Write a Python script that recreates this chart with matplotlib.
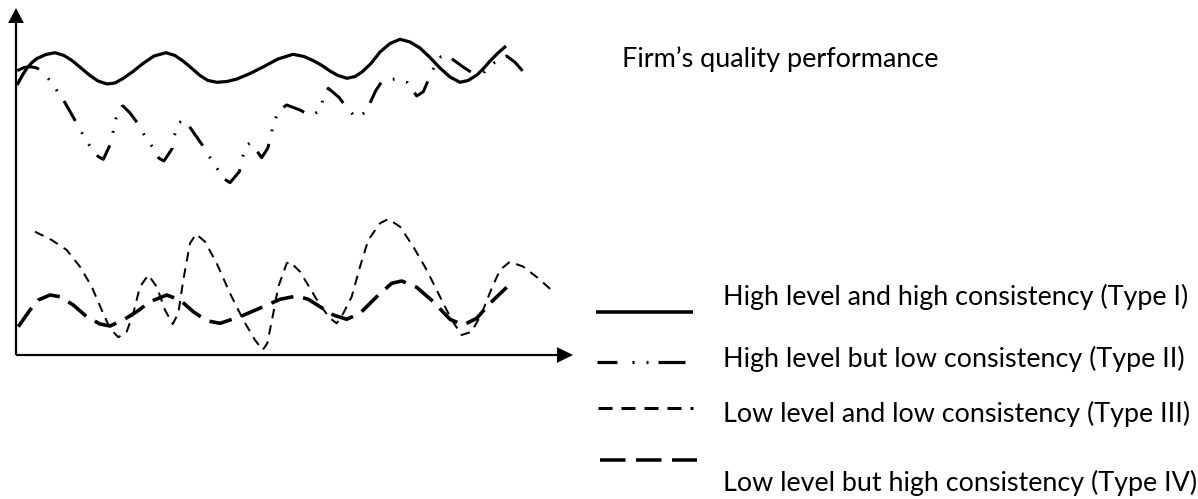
import matplotlib
matplotlib.use("Agg")
import matplotlib.pyplot as plt

plt.rcParams["lines.scale_dashes"] = False
plt.rcParams["font.family"] = ["Lato", "DejaVu Sans"]

# ---------------- data (time t, quality q) ----------------
t_type1 = [1, 6, 11, 16, 21, 30, 39, 48, 56, 65, 74, 82, 91, 99, 107, 117, 127, 138, 150,
           159, 167, 176, 184, 192, 201, 211, 221, 234, 247, 262, 277, 288, 297, 306, 314,
           322, 331, 339, 346, 355, 364, 374, 384, 394, 404, 414, 424, 434, 444, 452, 461,
           468, 474, 482, 490]
q_type1 = [270, 279, 287, 292.5, 296.5, 300.5, 302.3, 299.5, 294.5, 287, 279.5, 274, 271,
           272, 276.5, 283.5, 291.5, 299, 302.3, 299.5, 294, 286.5, 279.5, 274.5, 272.7,
           273.5, 276, 281.5, 288, 296, 300.7, 298.5, 294.5, 289.5, 284, 279.5, 276.7,
           278.5, 283, 291.5, 303, 311.5, 315.7, 313, 307, 297.5, 287, 278, 272.7, 274.5,
           280, 287, 294, 302, 309]

t_type2 = [1.3, 8, 14, 20, 25.7, 34, 41.7, 49, 60.7, 67.3, 74, 82.3, 87.3, 94, 97.3, 100,
           105.7, 107, 114, 121.7, 128.3, 135.7, 143, 148, 156.3, 158.3, 162.3, 167, 172.3,
           186.3, 193, 200, 207.3, 214, 223.3, 226.3, 230, 234, 239, 245.7, 251.7, 255,
           257.3, 263.3, 270.7, 284, 294.7, 304.7, 307.3, 312.3, 323, 330.7, 339.7, 349.7,
           359.7, 366.7, 379.7, 391.7, 400.7, 407.3, 412.3, 418, 425, 430.7, 445.7, 456.7,
           469, 478.3, 490.7, 499, 507.3]
q_type2 = [284.3, 287.5, 288.3, 287.3, 284.3, 274.3, 263.3, 252.3, 231.7, 219.7, 208.7,
           198.3, 195.7, 210, 224, 236.7, 248.3, 249, 242, 231.7, 220, 209, 196.7, 194,
           206.7, 219, 231.7, 235, 230, 210, 199, 188.3, 176.7, 172.3, 183.3, 196.7, 209.3,
           212, 206.7, 197.3, 206.7, 219, 231.7, 245, 250, 245, 239, 245, 258.3, 266.7,
           257.7, 247.3, 237.7, 242.7, 264.3, 274.7, 276, 272.3, 259, 263.3, 275, 287.7,
           298.3, 300, 289, 281.7, 283.3, 292.3, 299, 292.7, 283.3]

t_type3 = [19, 35.7, 50.7, 64, 75.7, 85.7, 94, 102.3, 110.7, 117.3, 124, 132.3, 140.7, 149,
           156.7, 162.3, 167.3, 174, 180, 189, 200.7, 214, 227.3, 239, 246.7, 251.3, 257.3,
           262.3, 270.7, 274, 284, 294, 304, 314, 320.7, 327.3, 335.7, 344, 352.3, 364,
           372.3, 384, 397.3, 410.7, 424, 435.7, 445.7, 455.7, 465.7, 475.7, 484, 494,
           507.3, 522.3, 537.3]
q_type3 = [123.3, 115, 105, 88.3, 68.3, 45, 26.7, 17.7, 23.3, 41.7, 68.3, 80, 68.3, 45, 31,
           41.7, 75, 111.7, 121, 113.3, 91.7, 61.7, 35, 15, 5, 11.7, 41.7, 68.3, 91.7, 93.3,
           83.3, 66.7, 50, 36.7, 31.7, 41.7, 58.3, 88.3, 115, 131.7, 136, 128.3, 108.3, 85,
           58.3, 35, 20, 23.3, 41.7, 66.7, 85, 93.3, 88.3, 76.7, 63.3]

t_type4 = [2.3, 14, 22.3, 34, 44, 57.3, 70.7, 84, 94, 107.3, 120.7, 134, 150.7, 164, 177.3,
           190.7, 204, 224, 247.3, 264, 280.7, 292.3, 304, 317.3, 330.7, 344, 360.7, 375.7,
           385.7, 400.7, 417.3, 434, 447.3, 460.7, 474, 490.7]
q_type4 = [28.3, 45, 55, 60, 58.3, 50, 38.3, 31, 29, 35, 43.3, 53.3, 60, 55, 43.3, 34.3,
           31.7, 38.3, 48.3, 55.7, 59, 55.7, 48.3, 40, 35.7, 41.7, 58.3, 71.7, 74, 67.7,
           53.3, 35.7, 30, 36.7, 51.7, 67.7]

title_text = "Firm\u2019s quality performance"
legend_labels = ["High level and high consistency (Type I)",
                 "High level but low consistency (Type II)",
                 "Low level and low consistency (Type III)",
                 "Low level but high consistency (Type IV)"]

# ---------------- layout ----------------
W, H = 1198, 499
PT = 72.0 / 100.0  # points per pixel


def px(*v):
    return tuple(x * PT for x in v)


fig = plt.figure(figsize=(W / 100, H / 100), dpi=100)

ov = fig.add_axes([0, 0, 1, 1])
ov.set_xlim(0, W)
ov.set_ylim(H, 0)
ov.axis("off")

L, R, B, T = 16, 573, 355, 8
ax = fig.add_axes([L / W, (H - B) / H, (R - L) / W, (B - T) / H])
ax.set_xlim(0, R - L)
ax.set_ylim(0, B - T)
ax.axis("off")

# axes arrows
ax.arrow(0, 0, 0, B - T, width=2.2, head_width=15.7, head_length=15,
         length_includes_head=True, fc="k", ec="k", lw=0, clip_on=False)
ax.arrow(0, 0, R - L, 0, width=2.2, head_width=15.7, head_length=16,
         length_includes_head=True, fc="k", ec="k", lw=0, clip_on=False)

style1 = dict(color="k", lw=3.2 * PT, solid_capstyle="butt")
style2 = dict(color="k", lw=3.0 * PT, linestyle=(0, px(23, 13, 1.8, 12, 1.8, 12)))
style3 = dict(color="k", lw=2.0 * PT, linestyle=(0, px(9.5, 7)))
style4 = dict(color="k", lw=3.6 * PT, linestyle=(0, px(23, 10)))

ax.plot(t_type1, q_type1, clip_on=False, **style1)
ax.plot(t_type2, q_type2, clip_on=False, **style2)
ax.plot(t_type3, q_type3, clip_on=False, **style3)
ax.plot(t_type4, q_type4, clip_on=False, **style4)

# legend samples
ov.plot([595.7, 693.3], [312.3, 312.3], color="k", lw=3.5 * PT, solid_capstyle="butt")
ov.plot([596.7, 685], [361.7, 361.7], color="k", lw=3.2 * PT,
        linestyle=(0, px(20, 15, 2, 12, 2, 10, 30, 60)))
ov.plot([598.3, 693.3], [407.7, 407.7], color="k", lw=3.0 * PT, linestyle=(0, px(14, 9)))
ov.plot([600, 696.7], [460, 460], color="k", lw=3.5 * PT, linestyle=(0, px(25.5, 10.5)))

renderer = fig.canvas.get_renderer()


def fit_size(s, target_w, size0=16):
    t = ov.text(0, 0, s, fontsize=size0)
    w = t.get_window_extent(renderer).width
    t.remove()
    return size0 * target_w / w


leg_size = fit_size(legend_labels[0], 467)
title_size = fit_size(title_text, 319)

ov.text(621.7, 66.7, title_text, fontsize=title_size, va="baseline", ha="left", color="k")
for lab, yb in zip(legend_labels, [305, 367.3, 421.7, 490.7]):
    ov.text(723.3, yb, lab, fontsize=leg_size, va="baseline", ha="left", color="k")

fig.savefig("out.png", dpi=100)
